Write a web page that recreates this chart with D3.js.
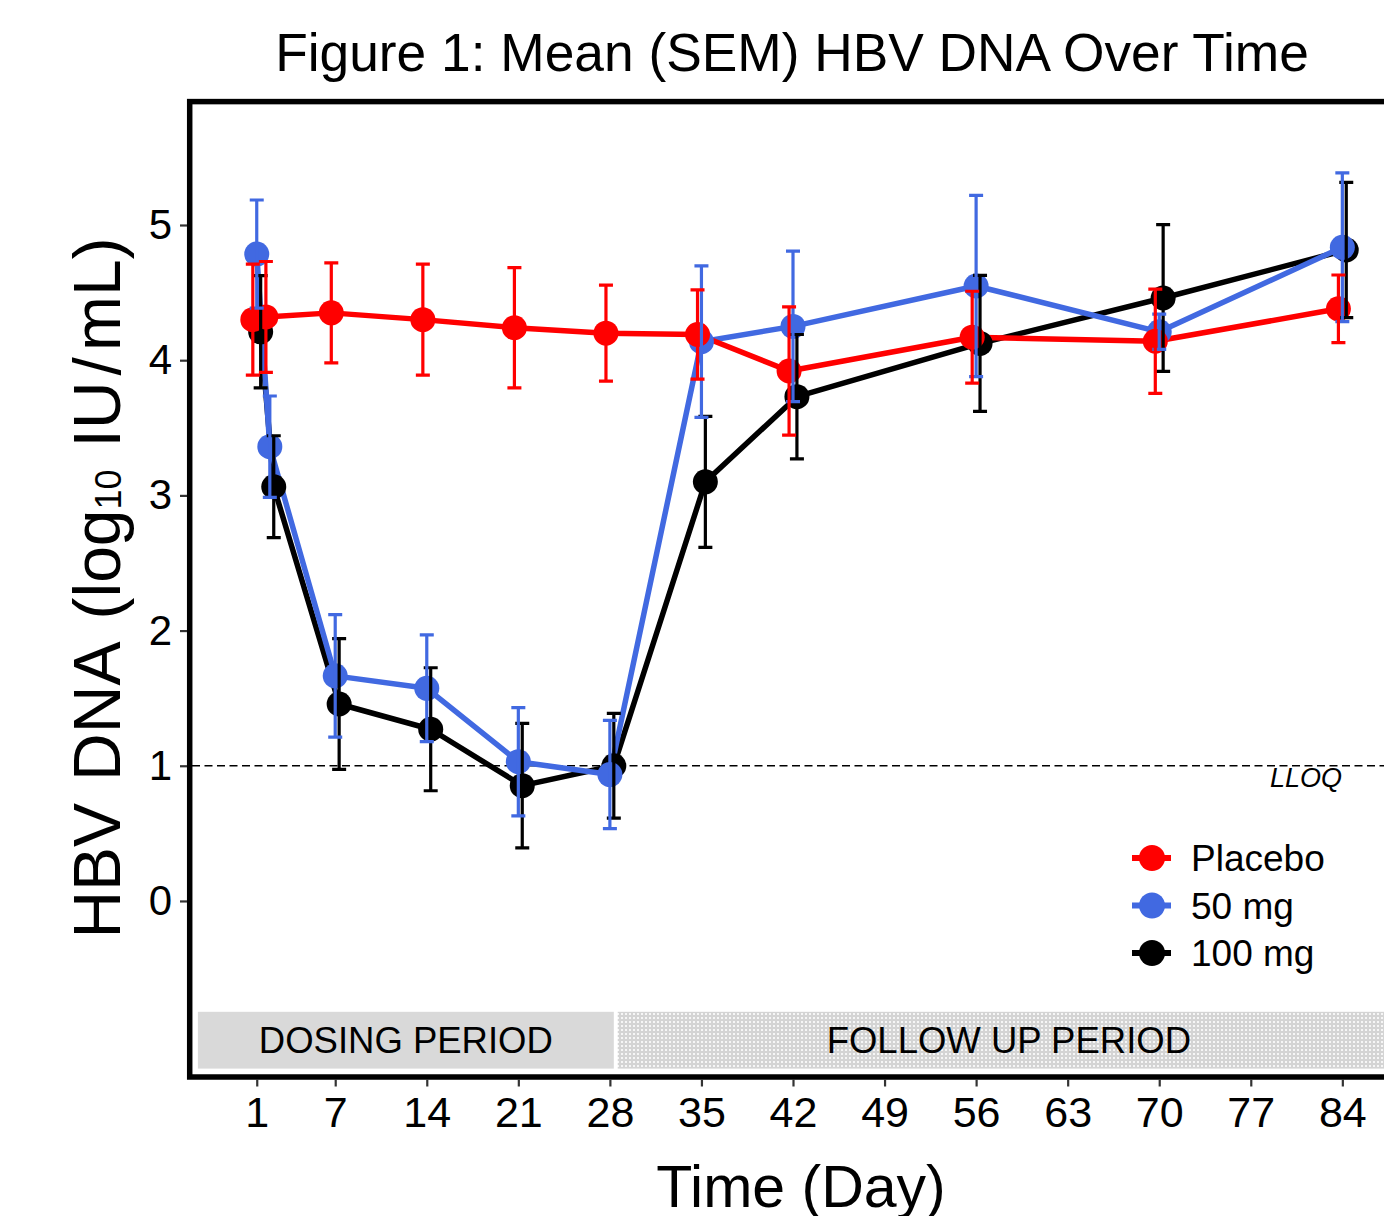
<!DOCTYPE html>
<html>
<head>
<meta charset="utf-8">
<script src="https://cdn.jsdelivr.net/npm/d3@7"></script>
<style>
  body { margin: 0; background: #fff; }
  svg { display: block; font-family: "Liberation Sans", Arial, sans-serif; }
</style>
</head>
<body>
<div id="container"></div>
<script>
/* DATA */
const days = [1, 2, 7, 14, 21, 28, 35, 42, 56, 70, 84];
const groups = ["Placebo", "50 mg", "100 mg"];

const placeboMean = [4.30, 4.32, 4.35, 4.30, 4.24, 4.20, 4.19, 3.92, 4.17, 4.14, 4.38];
const placeboSem  = [0.41, 0.41, 0.37, 0.41, 0.445, 0.355, 0.33, 0.475, 0.34, 0.385, 0.25];

const mg50Mean = [4.785, 3.36, 1.665, 1.573, 1.03, 0.935, 4.137, 4.25, 4.549, 4.21, 4.835];
const mg50Sem  = [0.40, 0.375, 0.453, 0.395, 0.40, 0.40, 0.56, 0.557, 0.67, 0.13, 0.55];

const mg100Mean = [4.21, 3.064, 1.457, 1.27, 0.853, 1.0, 3.10, 3.73, 4.124, 4.46, 4.815];
const mg100Sem  = [0.415, 0.377, 0.483, 0.455, 0.46, 0.387, 0.485, 0.46, 0.503, 0.543, 0.50];

const xTicks = [1, 7, 14, 21, 28, 35, 42, 49, 56, 63, 70, 77, 84];
const yTicks = [0, 1, 2, 3, 4, 5];
const lloq = 1;
const periods = [
  { label: "DOSING PERIOD", start: -3.5, end: 28.3 },
  { label: "FOLLOW UP PERIOD", start: 28.6, end: 88.5 }
];

/* CONSTANTS */
const width = 1384, height = 1216;
const colors = { "Placebo": "#ff0000", "50 mg": "#4169e1", "100 mg": "#000000" };
const dodge = { "Placebo": -0.3, "50 mg": 0, "100 mg": 0.3 };

const series = [
  { name: "Placebo", mean: placeboMean, sem: placeboSem },
  { name: "50 mg", mean: mg50Mean, sem: mg50Sem },
  { name: "100 mg", mean: mg100Mean, sem: mg100Sem }
].map(s => ({
  name: s.name,
  values: days.map((d, i) => ({ day: d, mean: s.mean[i], sem: s.sem[i] }))
}));

/* SCALES */
const xScale = d3.scaleLinear().domain([-3.95, 88.6]).range([192, 1402.5]);
const yScale = d3.scaleLinear().domain([-1.28, 5.895]).range([1074, 104]);

const svg = d3.select("#container").append("svg")
  .attr("width", width)
  .attr("height", height);

const defs = svg.append("defs");
const pat = defs.append("pattern")
  .attr("id", "dots")
  .attr("width", 4).attr("height", 4)
  .attr("patternUnits", "userSpaceOnUse");
pat.append("rect").attr("width", 4).attr("height", 4).attr("fill", "#d4d4d4");
pat.append("rect").attr("x", 1).attr("y", 1).attr("width", 2).attr("height", 2).attr("fill", "#f6f6f6");

/* TITLE */
svg.append("text")
  .attr("x", 792).attr("y", 71)
  .attr("text-anchor", "middle")
  .attr("font-size", 53.3)
  .text("Figure 1: Mean (SEM) HBV DNA Over Time");

/* PERIOD BANDS */
const bands = svg.append("g");
bands.selectAll("rect")
  .data(periods)
  .join("rect")
  .attr("x", d => xScale(d.start))
  .attr("width", d => xScale(d.end) - xScale(d.start))
  .attr("y", yScale(-0.82))
  .attr("height", yScale(-1.24) - yScale(-0.82))
  .attr("fill", (d, i) => i === 0 ? "#d9d9d9" : "url(#dots)");
bands.selectAll("text")
  .data(periods)
  .join("text")
  .attr("x", d => (xScale(d.start) + Math.min(xScale(d.end), 1400)) / 2)
  .attr("y", 1053)
  .attr("text-anchor", "middle")
  .attr("font-size", 36.5)
  .text(d => d.label);

/* LLOQ */
svg.append("line")
  .attr("x1", 192).attr("x2", 1400)
  .attr("y1", yScale(lloq)).attr("y2", yScale(lloq))
  .attr("stroke", "#000").attr("stroke-width", 1.5)
  .attr("stroke-dasharray", "8,4.5");
svg.append("text")
  .attr("x", 1342).attr("y", 787)
  .attr("text-anchor", "end")
  .attr("font-size", 27)
  .attr("font-style", "italic")
  .text("LLOQ");

/* MARKS */
const order = ["100 mg", "50 mg", "Placebo"];
const drawOrder = order.map(n => series.find(s => s.name === n));
const px = (d, name) => xScale(d.day + dodge[name]);

const line = name => d3.line().x(d => px(d, name)).y(d => yScale(d.mean));

svg.append("g").selectAll("path")
  .data(drawOrder)
  .join("path")
  .attr("d", s => line(s.name)(s.values))
  .attr("fill", "none")
  .attr("stroke", s => colors[s.name])
  .attr("stroke-width", 5.5)
  .attr("stroke-linejoin", "round");

const pts = svg.append("g").selectAll("g")
  .data(drawOrder)
  .join("g")
  .attr("fill", s => colors[s.name]);
pts.selectAll("circle")
  .data(s => s.values.map(v => ({ ...v, name: s.name })))
  .join("circle")
  .attr("cx", d => px(d, d.name))
  .attr("cy", d => yScale(d.mean))
  .attr("r", 12.5);

const errs = svg.append("g").selectAll("g")
  .data(drawOrder)
  .join("g")
  .attr("stroke", s => colors[s.name])
  .attr("stroke-width", 3.2)
  .attr("fill", "none");
errs.selectAll("path")
  .data(s => s.values.map(v => ({ ...v, name: s.name })))
  .join("path")
  .attr("d", d => {
    const x = px(d, d.name), y0 = yScale(d.mean - d.sem), y1 = yScale(d.mean + d.sem);
    return `M${x - 7},${y1}H${x + 7}M${x},${y1}V${y0}M${x - 7},${y0}H${x + 7}`;
  });

/* FRAME + AXES */
svg.append("rect")
  .attr("x", 189.7).attr("y", 101.6)
  .attr("width", 1420 - 189.7).attr("height", 1077 - 101.6)
  .attr("fill", "none").attr("stroke", "#000").attr("stroke-width", 5.5);

const xAxis = d3.axisBottom(xScale).tickValues(xTicks).tickSize(7).tickPadding(10);
const gx = svg.append("g")
  .attr("transform", "translate(0,1079.5)")
  .call(xAxis);
gx.select(".domain").remove();
gx.selectAll(".tick line").attr("stroke", "#333").attr("stroke-width", 2.2);
gx.selectAll(".tick text").attr("font-size", 43).attr("fill", "#000")
  .attr("font-family", "Liberation Sans, Arial, sans-serif");

const yAxis = d3.axisLeft(yScale).tickValues(yTicks).tickSize(7).tickPadding(8);
const gy = svg.append("g")
  .attr("transform", "translate(187,0)")
  .call(yAxis);
gy.select(".domain").remove();
gy.selectAll(".tick line").attr("stroke", "#333").attr("stroke-width", 2.2);
gy.selectAll(".tick text").attr("font-size", 42).attr("fill", "#000")
  .attr("font-family", "Liberation Sans, Arial, sans-serif");

/* AXIS TITLES */
svg.append("text")
  .attr("x", 801).attr("y", 1207)
  .attr("text-anchor", "middle")
  .attr("font-size", 59)
  .text("Time (Day)");

const yt = svg.append("text")
  .attr("transform", "translate(120,588) rotate(-90)")
  .attr("text-anchor", "middle")
  .attr("font-size", 66);
yt.append("tspan").text("HBV");
yt.append("tspan").attr("dx", 22).text("DNA");
yt.append("tspan").attr("dx", 22).text("(log");
yt.append("tspan").attr("font-size", 36).attr("dy", 1).text("10");
yt.append("tspan").attr("dy", -1).attr("dx", 22).text("IU");
yt.append("tspan").attr("dx", 6).text("/");
yt.append("tspan").attr("dx", 6).text("mL)");

/* LEGEND */
const legend = svg.append("g").attr("transform", "translate(1132,858)");
const li = legend.selectAll("g")
  .data(groups)
  .join("g")
  .attr("transform", (d, i) => `translate(0,${i * 47.5})`);
li.append("line")
  .attr("x1", 0).attr("x2", 39)
  .attr("stroke", d => colors[d]).attr("stroke-width", 6);
li.append("circle")
  .attr("cx", 20).attr("r", 13)
  .attr("fill", d => colors[d]);
li.append("text")
  .attr("x", 59).attr("y", 13)
  .attr("font-size", 37)
  .text(d => d);
</script>
</body>
</html>
